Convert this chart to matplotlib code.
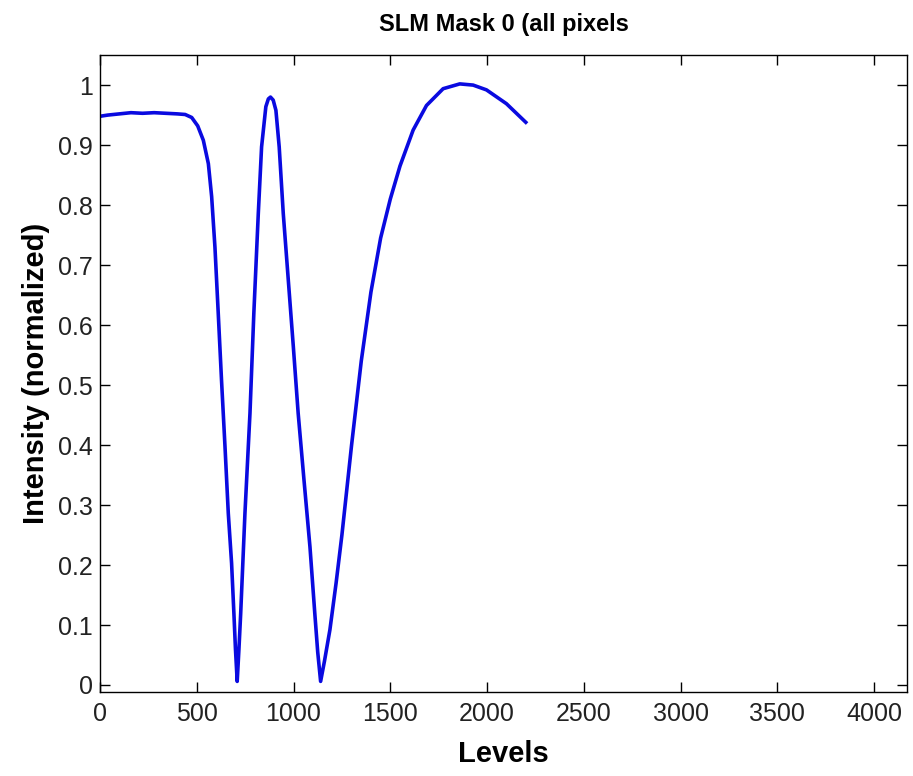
import matplotlib

matplotlib.use("Agg")
import matplotlib.pyplot as plt

# values
levels = [0, 40, 100, 160, 220, 280, 340, 400, 440, 474, 505, 534, 560, 577,
          594, 611, 628, 646, 663, 680, 692, 700, 709, 718, 727, 749, 775,
          795, 818, 835, 857, 870, 881, 895, 909, 926, 947, 973, 999, 1024,
          1054, 1085, 1110, 1125, 1140, 1160, 1188, 1220, 1250, 1300, 1350,
          1400, 1450, 1500, 1550, 1618, 1687, 1773, 1859, 1928, 1997, 2100,
          2200]
intensity = [0.948, 0.950, 0.952, 0.954, 0.953, 0.954, 0.953, 0.952, 0.951,
             0.946, 0.932, 0.908, 0.869, 0.814, 0.73, 0.62, 0.508, 0.397,
             0.286, 0.203, 0.119, 0.06, 0.006, 0.06, 0.119, 0.286, 0.453,
             0.62, 0.786, 0.897, 0.964, 0.977, 0.980, 0.975, 0.958, 0.897,
             0.786, 0.675, 0.564, 0.453, 0.342, 0.23, 0.119, 0.055, 0.006,
             0.04, 0.092, 0.17, 0.25, 0.40, 0.54, 0.655, 0.745, 0.81, 0.865,
             0.925, 0.966, 0.994, 1.002, 1.0, 0.992, 0.969, 0.938]

fig = plt.figure(figsize=(9.13, 7.76), dpi=100)
ax = fig.add_axes([0.1095, 0.108, 0.884, 0.821])

ax.plot(levels, intensity, color="#0a0ae0", linewidth=2.6)

ax.set_xlim(0, 4170)
ax.set_ylim(-0.012, 1.05)
ax.set_xticks(range(0, 4001, 500))
ax.set_yticks([i / 10 for i in range(11)])
ax.set_yticklabels(["0", "0.1", "0.2", "0.3", "0.4", "0.5", "0.6", "0.7",
                    "0.8", "0.9", "1"])

font = "Liberation Sans"
ax.tick_params(direction="in", top=True, right=True, length=7, width=1,
               labelsize=18)
ax.tick_params(axis="x", pad=7)
ax.tick_params(axis="y", pad=5)
for lab in ax.get_xticklabels() + ax.get_yticklabels():
    lab.set_fontfamily(font)
    lab.set_color("#222222")
for sp in ax.spines.values():
    sp.set_linewidth(1)

ax.set_title("SLM Mask 0 (all pixels", fontsize=17, fontweight="bold",
             family=font, pad=17)
ax.set_xlabel("Levels", fontsize=21, fontweight="bold", family=font,
              labelpad=10)
ax.set_ylabel("Intensity (normalized)", fontsize=21, fontweight="bold",
              family=font, labelpad=6)

fig.savefig("out.png", dpi=100)
